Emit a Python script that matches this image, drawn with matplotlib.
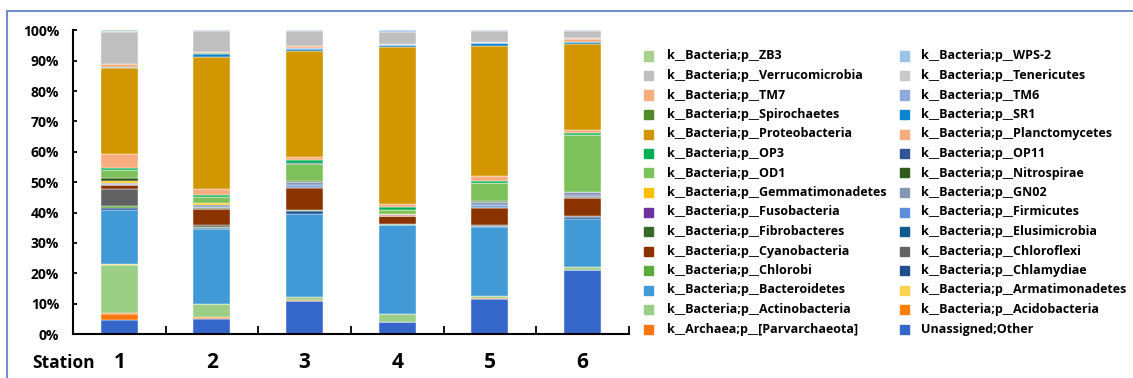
import numpy as np
import matplotlib
matplotlib.use("Agg")
import matplotlib.pyplot as plt
from matplotlib.patches import Rectangle
from matplotlib.ticker import FixedLocator, PercentFormatter

plt.rcParams['font.family'] = ['Open Sans', 'DejaVu Sans']
plt.rcParams['font.weight'] = 'bold'

# series, bottom to top
phyla = ['Unassigned;Other', 'k__Archaea;p__[Parvarchaeota]', 'k__Bacteria;p__Acidobacteria',
         'k__Bacteria;p__Actinobacteria', 'k__Bacteria;p__Armatimonadetes', 'k__Bacteria;p__Bacteroidetes',
         'k__Bacteria;p__Chlamydiae', 'k__Bacteria;p__Chlorobi', 'k__Bacteria;p__Chloroflexi',
         'k__Bacteria;p__Cyanobacteria', 'k__Bacteria;p__Elusimicrobia', 'k__Bacteria;p__Fibrobacteres',
         'k__Bacteria;p__Firmicutes', 'k__Bacteria;p__Fusobacteria', 'k__Bacteria;p__GN02',
         'k__Bacteria;p__Gemmatimonadetes', 'k__Bacteria;p__Nitrospirae', 'k__Bacteria;p__OD1',
         'k__Bacteria;p__OP11', 'k__Bacteria;p__OP3', 'k__Bacteria;p__Planctomycetes',
         'k__Bacteria;p__Proteobacteria', 'k__Bacteria;p__SR1', 'k__Bacteria;p__Spirochaetes',
         'k__Bacteria;p__TM6', 'k__Bacteria;p__TM7', 'k__Bacteria;p__Tenericutes',
         'k__Bacteria;p__Verrucomicrobia', 'k__Bacteria;p__WPS-2', 'k__Bacteria;p__ZB3']

colors = ['#3467c9', '#fa7610', '#ff7f0e', '#9ccf86', '#ffd54f', '#419ad6',
          '#1f4e8c', '#5aaa3c', '#626262', '#8b3300', '#0d5d91', '#38682a',
          '#5b8fd8', '#7030a0', '#8497b0', '#ffc000', '#2f5a1a', '#7cc15a',
          '#2f5597', '#00b050', '#f8ad80', '#d19600', '#0b84d0', '#4f8a2a',
          '#8eaadb', '#f8ad7d', '#c9c9c9', '#bfbfbf', '#9dc3e6', '#a9d18e']

stations = ['1', '2', '3', '4', '5', '6']

station_1 = [4.6, 2.2, 0.1, 16.2, 0.4, 17.9, 0.5, 0.8, 5.6, 1.3, 0.1, 0.1, 0.1, 0.05, 0.2,
             0.9, 0.9, 2.6, 0.1, 0.7, 4.6, 28.7, 0.1, 0.1, 0.05, 0.9, 0.2, 10.7, 0.05, 0.4]
station_2 = [5.2, 0.2, 0.3, 4.4, 0.1, 25.0, 0.3, 0.4, 0.4, 5.4, 0.1, 0.2, 0.5, 0.05, 0.6,
             0.5, 0.1, 2.0, 0.1, 0.6, 1.8, 44.2, 1.1, 0.1, 0.1, 0.2, 0.2, 7.1, 0.05, 0.05]
station_3 = [11.0, 0.2, 0.2, 0.9, 0.1, 27.6, 1.1, 0.2, 0.1, 7.5, 0.1, 0.2, 0.4, 0.05, 1.0,
             0.1, 0.2, 5.9, 0.1, 1.1, 1.1, 35.3, 0.7, 0.1, 0.1, 0.7, 0.2, 5.0, 0.05, 0.05]
station_4 = [4.1, 0.05, 0.05, 2.5, 0.05, 29.6, 0.1, 0.1, 0.05, 2.6, 0.05, 0.1, 0.1, 0.02, 0.3,
             0.05, 0.05, 1.5, 0.05, 0.7, 1.3, 52.0, 0.7, 0.05, 0.05, 0.1, 0.1, 3.9, 0.7, 0.05]
station_5 = [11.8, 0.05, 0.1, 0.9, 0.05, 23.0, 0.2, 0.1, 0.1, 5.9, 0.1, 0.3, 0.5, 0.05, 1.0,
             0.1, 0.1, 6.1, 0.1, 0.7, 1.5, 43.6, 0.7, 0.1, 0.1, 0.1, 0.1, 3.9, 0.05, 0.05]
station_6 = [21.3, 0.05, 0.1, 0.9, 0.05, 15.9, 0.8, 0.1, 0.1, 6.1, 0.1, 0.2, 0.3, 0.4, 1.0,
             0.05, 0.1, 18.8, 0.1, 0.7, 1.1, 28.5, 0.7, 0.1, 0.1, 0.9, 0.2, 2.6, 0.05, 0.05]

# 100% stacked: normalise each station
data = np.array([station_1, station_2, station_3, station_4, station_5, station_6]).T
data = data / data.sum(axis=0) * 100

fig = plt.figure(figsize=(11.33, 3.78), dpi=100)
ax = fig.add_axes([0.0644, 0.116, 0.4907, 0.804])

x = np.arange(len(stations))
bottom = np.zeros(len(stations))
for i, name in enumerate(phyla):
    ax.bar(x, data[i], 0.4, bottom=bottom, color=colors[i], edgecolor='white', linewidth=0.3, label=name)
    bottom += data[i]

ax.set_xlim(-0.5, 5.5)
ax.set_ylim(0, 100)
ax.set_yticks(np.arange(0, 101, 10))
ax.yaxis.set_major_formatter(PercentFormatter(decimals=0))
ax.tick_params(axis='y', direction='in', length=3, width=1.3, labelsize=10, pad=10)
ax.set_xticks(x)
ax.set_xticklabels(stations, fontsize=15, fontweight='bold')
ax.tick_params(axis='x', which='major', length=0, pad=13)
ax.xaxis.set_minor_locator(FixedLocator(np.arange(0.5, 6, 1)))
ax.tick_params(axis='x', which='minor', direction='in', length=6, width=1.3)
for lab in ax.get_yticklabels():
    lab.set_fontweight('bold')
for s in ['top', 'right']:
    ax.spines[s].set_visible(False)
for s in ['left', 'bottom']:
    ax.spines[s].set_linewidth(1.5)

fig.text(0.0282, 1 - 363 / 378.0, 'Station', fontsize=12.5, fontweight='bold', va='center', ha='left')

# legend: two columns, reading top-down, Excel order
left_col = [29, 27, 25, 23, 21, 19, 17, 15, 13, 11, 9, 7, 5, 3, 1]
right_col = [28, 26, 24, 22, 20, 18, 16, 14, 12, 10, 8, 6, 4, 2, 0]
H, W = 378.0, 1133.0
for col, x_sq, x_txt in [(left_col, 644, 667), (right_col, 900, 921)]:
    for r, i in enumerate(col):
        yc = 56 + r * 19.5
        fig.patches.append(Rectangle(((x_sq) / W, 1 - (yc + 4.5) / H), 9 / W, 9 / H,
                                     transform=fig.transFigure, color=colors[i]))
        fig.text(x_txt / W, 1 - yc / H, phyla[i], fontsize=9, fontweight='bold',
                 va='center', ha='left')

# outer border
fig.patches.append(Rectangle((7 / W, -0.05), 1.2, 1 - 11 / H + 0.05, transform=fig.transFigure,
                             fill=False, edgecolor='#6f8fd0', linewidth=1.5))

fig.savefig('out.png', dpi=100)
